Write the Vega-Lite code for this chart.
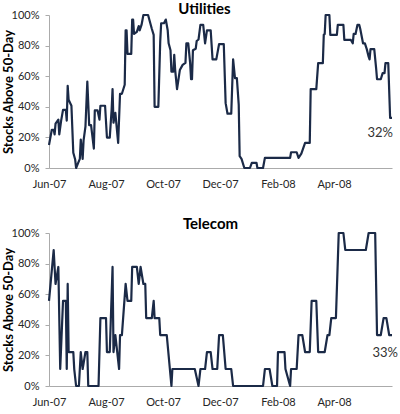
{
  "$schema": "https://vega.github.io/schema/vega-lite/v6.json",
  "padding": {"left": 2, "top": 2, "right": 5, "bottom": 5},
  "background": "white",
  "config": {
    "view": {"stroke": null},
    "font": "Lato",
    "axis": {"grid": false, "domainColor": "#ABABAB", "tickColor": "#ABABAB", "labelFont": "Lato", "labelFontSize": 11, "labelColor": "#262626", "titleFont": "Lato", "titleColor": "#000000"},
    "axisY": {"labelOverlap": false, "labelFlush": false, "labelBound": false},
    "axisX": {"labelOverlap": false, "labelFlush": false},
    "title": {"font": "Lato", "fontSize": 15, "fontWeight": "bold", "color": "#000000"}
  },
  "datasets": {
    "util": [
      {"date": "2007-06-01T00:00:00", "value": 15},
      {"date": "2007-06-04T00:00:00", "value": 25},
      {"date": "2007-06-06T00:00:00", "value": 25},
      {"date": "2007-06-07T00:00:00", "value": 22},
      {"date": "2007-06-08T00:00:00", "value": 29},
      {"date": "2007-06-11T00:00:00", "value": 31.6},
      {"date": "2007-06-12T00:00:00", "value": 22},
      {"date": "2007-06-14T00:00:00", "value": 31},
      {"date": "2007-06-16T00:00:00", "value": 38},
      {"date": "2007-06-19T00:00:00", "value": 38},
      {"date": "2007-06-20T00:00:00", "value": 31},
      {"date": "2007-06-21T00:00:00", "value": 53.7},
      {"date": "2007-06-22T00:00:00", "value": 44.6},
      {"date": "2007-06-25T00:00:00", "value": 40.7},
      {"date": "2007-06-27T00:00:00", "value": 10},
      {"date": "2007-06-29T00:00:00", "value": 5.5},
      {"date": "2007-06-30T00:00:00", "value": 0},
      {"date": "2007-07-02T00:00:00", "value": 3},
      {"date": "2007-07-04T00:00:00", "value": 6},
      {"date": "2007-07-05T00:00:00", "value": 18.6},
      {"date": "2007-07-07T00:00:00", "value": 6},
      {"date": "2007-07-08T00:00:00", "value": 18},
      {"date": "2007-07-10T00:00:00", "value": 27},
      {"date": "2007-07-12T00:00:00", "value": 56.5},
      {"date": "2007-07-14T00:00:00", "value": 28},
      {"date": "2007-07-16T00:00:00", "value": 28},
      {"date": "2007-07-17T00:00:00", "value": 23},
      {"date": "2007-07-19T00:00:00", "value": 12.7},
      {"date": "2007-07-20T00:00:00", "value": 37.6},
      {"date": "2007-07-23T00:00:00", "value": 37.6},
      {"date": "2007-07-25T00:00:00", "value": 31.6},
      {"date": "2007-07-26T00:00:00", "value": 40.7},
      {"date": "2007-07-31T00:00:00", "value": 40.7},
      {"date": "2007-08-02T00:00:00", "value": 19.9},
      {"date": "2007-08-05T00:00:00", "value": 19.9},
      {"date": "2007-08-07T00:00:00", "value": 38},
      {"date": "2007-08-08T00:00:00", "value": 51.6},
      {"date": "2007-08-09T00:00:00", "value": 29.6},
      {"date": "2007-08-11T00:00:00", "value": 36},
      {"date": "2007-08-14T00:00:00", "value": 16.4},
      {"date": "2007-08-16T00:00:00", "value": 48.5},
      {"date": "2007-08-18T00:00:00", "value": 48.5},
      {"date": "2007-08-21T00:00:00", "value": 54.4},
      {"date": "2007-08-22T00:00:00", "value": 90},
      {"date": "2007-08-23T00:00:00", "value": 90},
      {"date": "2007-08-24T00:00:00", "value": 74.6},
      {"date": "2007-08-28T00:00:00", "value": 74.6},
      {"date": "2007-08-29T00:00:00", "value": 97},
      {"date": "2007-08-30T00:00:00", "value": 97},
      {"date": "2007-08-31T00:00:00", "value": 87.6},
      {"date": "2007-09-03T00:00:00", "value": 89},
      {"date": "2007-09-05T00:00:00", "value": 92.8},
      {"date": "2007-09-06T00:00:00", "value": 90},
      {"date": "2007-09-08T00:00:00", "value": 93.5},
      {"date": "2007-09-10T00:00:00", "value": 100},
      {"date": "2007-09-15T00:00:00", "value": 100},
      {"date": "2007-09-19T00:00:00", "value": 91},
      {"date": "2007-09-21T00:00:00", "value": 87},
      {"date": "2007-09-22T00:00:00", "value": 40},
      {"date": "2007-09-26T00:00:00", "value": 40},
      {"date": "2007-09-28T00:00:00", "value": 82.6},
      {"date": "2007-09-29T00:00:00", "value": 94.6},
      {"date": "2007-10-02T00:00:00", "value": 94.6},
      {"date": "2007-10-04T00:00:00", "value": 97},
      {"date": "2007-10-06T00:00:00", "value": 90},
      {"date": "2007-10-07T00:00:00", "value": 81.5},
      {"date": "2007-10-09T00:00:00", "value": 77},
      {"date": "2007-10-10T00:00:00", "value": 63},
      {"date": "2007-10-12T00:00:00", "value": 63},
      {"date": "2007-10-13T00:00:00", "value": 74},
      {"date": "2007-10-14T00:00:00", "value": 64},
      {"date": "2007-10-16T00:00:00", "value": 51.6},
      {"date": "2007-10-19T00:00:00", "value": 64},
      {"date": "2007-10-22T00:00:00", "value": 67.4},
      {"date": "2007-10-25T00:00:00", "value": 68.7},
      {"date": "2007-10-26T00:00:00", "value": 81.5},
      {"date": "2007-10-28T00:00:00", "value": 81.5},
      {"date": "2007-10-30T00:00:00", "value": 68.7},
      {"date": "2007-10-31T00:00:00", "value": 58},
      {"date": "2007-11-01T00:00:00", "value": 58},
      {"date": "2007-11-02T00:00:00", "value": 77},
      {"date": "2007-11-05T00:00:00", "value": 78},
      {"date": "2007-11-06T00:00:00", "value": 83},
      {"date": "2007-11-08T00:00:00", "value": 84},
      {"date": "2007-11-10T00:00:00", "value": 93.5},
      {"date": "2007-11-13T00:00:00", "value": 93.5},
      {"date": "2007-11-15T00:00:00", "value": 81.5},
      {"date": "2007-11-17T00:00:00", "value": 90},
      {"date": "2007-11-21T00:00:00", "value": 90},
      {"date": "2007-11-23T00:00:00", "value": 71},
      {"date": "2007-11-27T00:00:00", "value": 71},
      {"date": "2007-11-30T00:00:00", "value": 81},
      {"date": "2007-12-05T00:00:00", "value": 81},
      {"date": "2007-12-07T00:00:00", "value": 42.4},
      {"date": "2007-12-09T00:00:00", "value": 35.5},
      {"date": "2007-12-13T00:00:00", "value": 35.5},
      {"date": "2007-12-15T00:00:00", "value": 71},
      {"date": "2007-12-17T00:00:00", "value": 58.8},
      {"date": "2007-12-19T00:00:00", "value": 58.8},
      {"date": "2007-12-21T00:00:00", "value": 41.4},
      {"date": "2007-12-22T00:00:00", "value": 7.7},
      {"date": "2007-12-24T00:00:00", "value": 6},
      {"date": "2007-12-27T00:00:00", "value": 0},
      {"date": "2008-01-02T00:00:00", "value": 0},
      {"date": "2008-01-04T00:00:00", "value": 3.4},
      {"date": "2008-01-09T00:00:00", "value": 3.4},
      {"date": "2008-01-10T00:00:00", "value": 0},
      {"date": "2008-01-16T00:00:00", "value": 0},
      {"date": "2008-01-18T00:00:00", "value": 6.6},
      {"date": "2008-02-14T00:00:00", "value": 6.6},
      {"date": "2008-02-15T00:00:00", "value": 10.3},
      {"date": "2008-02-21T00:00:00", "value": 10.3},
      {"date": "2008-02-23T00:00:00", "value": 6.6},
      {"date": "2008-02-26T00:00:00", "value": 9.4},
      {"date": "2008-03-01T00:00:00", "value": 16.4},
      {"date": "2008-03-06T00:00:00", "value": 16.4},
      {"date": "2008-03-07T00:00:00", "value": 51.6},
      {"date": "2008-03-13T00:00:00", "value": 51.6},
      {"date": "2008-03-15T00:00:00", "value": 68.5},
      {"date": "2008-03-20T00:00:00", "value": 68.5},
      {"date": "2008-03-21T00:00:00", "value": 87},
      {"date": "2008-03-22T00:00:00", "value": 87.6},
      {"date": "2008-03-23T00:00:00", "value": 100},
      {"date": "2008-03-27T00:00:00", "value": 100},
      {"date": "2008-03-28T00:00:00", "value": 87},
      {"date": "2008-04-04T00:00:00", "value": 87},
      {"date": "2008-04-05T00:00:00", "value": 93.5},
      {"date": "2008-04-11T00:00:00", "value": 93.5},
      {"date": "2008-04-12T00:00:00", "value": 83.7},
      {"date": "2008-04-19T00:00:00", "value": 83.7},
      {"date": "2008-04-21T00:00:00", "value": 81.5},
      {"date": "2008-04-22T00:00:00", "value": 87.6},
      {"date": "2008-04-24T00:00:00", "value": 87.6},
      {"date": "2008-04-26T00:00:00", "value": 93.5},
      {"date": "2008-04-28T00:00:00", "value": 93.5},
      {"date": "2008-04-29T00:00:00", "value": 91},
      {"date": "2008-05-02T00:00:00", "value": 81.5},
      {"date": "2008-05-04T00:00:00", "value": 81.5},
      {"date": "2008-05-06T00:00:00", "value": 77.7},
      {"date": "2008-05-08T00:00:00", "value": 72.8},
      {"date": "2008-05-09T00:00:00", "value": 71},
      {"date": "2008-05-10T00:00:00", "value": 77.7},
      {"date": "2008-05-14T00:00:00", "value": 77.7},
      {"date": "2008-05-16T00:00:00", "value": 65.3},
      {"date": "2008-05-17T00:00:00", "value": 58},
      {"date": "2008-05-21T00:00:00", "value": 58},
      {"date": "2008-05-23T00:00:00", "value": 62},
      {"date": "2008-05-25T00:00:00", "value": 62},
      {"date": "2008-05-26T00:00:00", "value": 68.5},
      {"date": "2008-05-29T00:00:00", "value": 68.5},
      {"date": "2008-05-31T00:00:00", "value": 32.7},
      {"date": "2008-06-02T00:00:00", "value": 32.7}
    ],
    "tele": [
      {"date": "2007-06-01T00:00:00", "value": 55.6},
      {"date": "2007-06-06T00:00:00", "value": 88.9},
      {"date": "2007-06-08T00:00:00", "value": 66.7},
      {"date": "2007-06-11T00:00:00", "value": 77.8},
      {"date": "2007-06-13T00:00:00", "value": 11.1},
      {"date": "2007-06-16T00:00:00", "value": 55.6},
      {"date": "2007-06-19T00:00:00", "value": 55.6},
      {"date": "2007-06-20T00:00:00", "value": 11.1},
      {"date": "2007-06-21T00:00:00", "value": 66.7},
      {"date": "2007-06-22T00:00:00", "value": 22.2},
      {"date": "2007-06-27T00:00:00", "value": 22.2},
      {"date": "2007-06-28T00:00:00", "value": 11.1},
      {"date": "2007-06-30T00:00:00", "value": 0},
      {"date": "2007-07-03T00:00:00", "value": 0},
      {"date": "2007-07-04T00:00:00", "value": 11.1},
      {"date": "2007-07-05T00:00:00", "value": 22.2},
      {"date": "2007-07-07T00:00:00", "value": 11.1},
      {"date": "2007-07-10T00:00:00", "value": 22.2},
      {"date": "2007-07-12T00:00:00", "value": 22.2},
      {"date": "2007-07-13T00:00:00", "value": 0},
      {"date": "2007-07-24T00:00:00", "value": 0},
      {"date": "2007-07-26T00:00:00", "value": 44.4},
      {"date": "2007-08-01T00:00:00", "value": 44.4},
      {"date": "2007-08-02T00:00:00", "value": 22.2},
      {"date": "2007-08-05T00:00:00", "value": 22.2},
      {"date": "2007-08-08T00:00:00", "value": 77.8},
      {"date": "2007-08-09T00:00:00", "value": 22.2},
      {"date": "2007-08-11T00:00:00", "value": 33.3},
      {"date": "2007-08-15T00:00:00", "value": 11.1},
      {"date": "2007-08-16T00:00:00", "value": 33.3},
      {"date": "2007-08-18T00:00:00", "value": 33.3},
      {"date": "2007-08-22T00:00:00", "value": 66.7},
      {"date": "2007-08-24T00:00:00", "value": 55.6},
      {"date": "2007-08-28T00:00:00", "value": 55.6},
      {"date": "2007-08-29T00:00:00", "value": 77.8},
      {"date": "2007-09-03T00:00:00", "value": 77.8},
      {"date": "2007-09-05T00:00:00", "value": 66.7},
      {"date": "2007-09-07T00:00:00", "value": 77.8},
      {"date": "2007-09-10T00:00:00", "value": 66.7},
      {"date": "2007-09-12T00:00:00", "value": 66.7},
      {"date": "2007-09-13T00:00:00", "value": 44.4},
      {"date": "2007-09-19T00:00:00", "value": 44.4},
      {"date": "2007-09-21T00:00:00", "value": 55.6},
      {"date": "2007-09-22T00:00:00", "value": 44.4},
      {"date": "2007-09-27T00:00:00", "value": 44.4},
      {"date": "2007-09-28T00:00:00", "value": 33.3},
      {"date": "2007-10-05T00:00:00", "value": 33.3},
      {"date": "2007-10-10T00:00:00", "value": 0},
      {"date": "2007-10-11T00:00:00", "value": 11.1},
      {"date": "2007-11-04T00:00:00", "value": 11.1},
      {"date": "2007-11-08T00:00:00", "value": 0},
      {"date": "2007-11-10T00:00:00", "value": 11.1},
      {"date": "2007-11-15T00:00:00", "value": 11.1},
      {"date": "2007-11-17T00:00:00", "value": 22.2},
      {"date": "2007-11-21T00:00:00", "value": 22.2},
      {"date": "2007-11-23T00:00:00", "value": 11.1},
      {"date": "2007-11-28T00:00:00", "value": 11.1},
      {"date": "2007-11-30T00:00:00", "value": 33.3},
      {"date": "2007-12-04T00:00:00", "value": 33.3},
      {"date": "2007-12-07T00:00:00", "value": 11.1},
      {"date": "2007-12-13T00:00:00", "value": 11.1},
      {"date": "2007-12-15T00:00:00", "value": 0},
      {"date": "2008-01-16T00:00:00", "value": 0},
      {"date": "2008-01-18T00:00:00", "value": 11.1},
      {"date": "2008-01-23T00:00:00", "value": 11.1},
      {"date": "2008-01-26T00:00:00", "value": 0},
      {"date": "2008-01-31T00:00:00", "value": 0},
      {"date": "2008-02-01T00:00:00", "value": 22.2},
      {"date": "2008-02-08T00:00:00", "value": 22.2},
      {"date": "2008-02-09T00:00:00", "value": 11.1},
      {"date": "2008-02-14T00:00:00", "value": 0},
      {"date": "2008-02-15T00:00:00", "value": 11.1},
      {"date": "2008-02-21T00:00:00", "value": 11.1},
      {"date": "2008-02-23T00:00:00", "value": 33.3},
      {"date": "2008-02-27T00:00:00", "value": 33.3},
      {"date": "2008-03-01T00:00:00", "value": 22.2},
      {"date": "2008-03-06T00:00:00", "value": 22.2},
      {"date": "2008-03-08T00:00:00", "value": 55.6},
      {"date": "2008-03-13T00:00:00", "value": 55.6},
      {"date": "2008-03-15T00:00:00", "value": 22.2},
      {"date": "2008-03-22T00:00:00", "value": 22.2},
      {"date": "2008-03-25T00:00:00", "value": 33.3},
      {"date": "2008-03-27T00:00:00", "value": 33.3},
      {"date": "2008-03-29T00:00:00", "value": 44.4},
      {"date": "2008-04-03T00:00:00", "value": 44.4},
      {"date": "2008-04-06T00:00:00", "value": 100},
      {"date": "2008-04-11T00:00:00", "value": 100},
      {"date": "2008-04-13T00:00:00", "value": 88.9},
      {"date": "2008-05-05T00:00:00", "value": 88.9},
      {"date": "2008-05-08T00:00:00", "value": 100},
      {"date": "2008-05-15T00:00:00", "value": 100},
      {"date": "2008-05-17T00:00:00", "value": 33.3},
      {"date": "2008-05-21T00:00:00", "value": 33.3},
      {"date": "2008-05-24T00:00:00", "value": 44.4},
      {"date": "2008-05-27T00:00:00", "value": 44.4},
      {"date": "2008-05-30T00:00:00", "value": 33.3},
      {"date": "2008-06-02T00:00:00", "value": 33.3}
    ],
    "utilLabel": [{"date": "2008-06-02T00:00:00", "value": 32.7, "label": "32%"}],
    "teleLabel": [{"date": "2008-06-02T00:00:00", "value": 33.3, "label": "33%"}]
  },
  "vconcat": [
    {
      "width": 343,
      "height": 153,
      "title": {"text": "Utilities", "anchor": "middle", "dx": -16, "offset": -8},
      "encoding": {
        "x": {"field": "date", "type": "temporal",
          "scale": {"domain": [{"year": 2007, "month": 6, "date": 1}, {"year": 2008, "month": 6, "date": 2}]},
          "axis": {"title": null, "format": "%b-%y", "ticks": false, "labelPadding": 10, "labelOverlap": false, "labelFlush": false,
            "values": [{"year": 2007, "month": 6, "date": 1}, {"year": 2007, "month": 8, "date": 1}, {"year": 2007, "month": 10, "date": 1}, {"year": 2007, "month": 12, "date": 1}, {"year": 2008, "month": 2, "date": 1}, {"year": 2008, "month": 4, "date": 1}]}},
        "y": {"field": "value", "type": "quantitative",
          "scale": {"domain": [0, 100], "nice": false},
          "axis": {"title": "Stocks Above 50-Day", "titleFontSize": 13, "titleFontWeight": "bold", "titlePadding": -4, "values": [0, 20, 40, 60, 80, 100], "labelExpr": "datum.value + '%'", "labelOverlap": false, "labelBound": false, "tickSize": 4, "labelPadding": 6}}
      },
      "layer": [
        {
          "data": {"name": "util"},
          "mark": {"type": "line", "color": "#1B2A47", "strokeWidth": 2.2, "strokeJoin": "round"}
        },
        {
          "data": {"name": "utilLabel"},
          "mark": {"type": "text", "align": "right", "baseline": "middle", "dx": 1, "dy": 15, "fontSize": 13, "font": "Lato", "color": "#333333"},
          "encoding": {"text": {"field": "label"}}
        }
      ]
    },
    {
      "width": 343,
      "height": 153,
      "title": {"text": "Telecom", "anchor": "middle", "dx": -10, "offset": -5},
      "encoding": {
        "x": {"field": "date", "type": "temporal",
          "scale": {"domain": [{"year": 2007, "month": 6, "date": 1}, {"year": 2008, "month": 6, "date": 2}]},
          "axis": {"title": null, "format": "%b-%y", "ticks": false, "labelPadding": 10, "labelOverlap": false, "labelFlush": false,
            "values": [{"year": 2007, "month": 6, "date": 1}, {"year": 2007, "month": 8, "date": 1}, {"year": 2007, "month": 10, "date": 1}, {"year": 2007, "month": 12, "date": 1}, {"year": 2008, "month": 2, "date": 1}, {"year": 2008, "month": 4, "date": 1}]}},
        "y": {"field": "value", "type": "quantitative",
          "scale": {"domain": [0, 100], "nice": false},
          "axis": {"title": "Stocks Above 50-Day", "titleFontSize": 13, "titleFontWeight": "bold", "titlePadding": -4, "values": [0, 20, 40, 60, 80, 100], "labelExpr": "datum.value + '%'", "labelOverlap": false, "labelBound": false, "tickSize": 4, "labelPadding": 6}}
      },
      "layer": [
        {
          "data": {"name": "tele"},
          "mark": {"type": "line", "color": "#1B2A47", "strokeWidth": 2.2, "strokeJoin": "round"}
        },
        {
          "data": {"name": "teleLabel"},
          "mark": {"type": "text", "align": "right", "baseline": "middle", "dx": 6, "dy": 18, "fontSize": 13, "font": "Lato", "color": "#333333"},
          "encoding": {"text": {"field": "label"}}
        }
      ]
    }
  ],
  "spacing": 65,
  "bounds": "flush"
}
